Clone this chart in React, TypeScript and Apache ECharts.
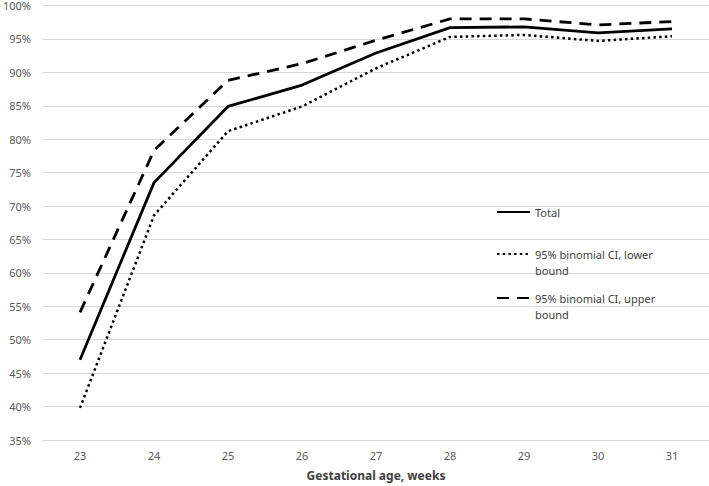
import React, { useEffect, useRef } from "react";
import * as echarts from "echarts";

const weeks = ["23", "24", "25", "26", "27", "28", "29", "30", "31"];
const total = [47.0, 73.5, 84.9, 88.1, 92.9, 96.7, 96.8, 95.9, 96.5];
const lower = [39.8, 68.6, 81.2, 84.9, 90.6, 95.3, 95.6, 94.7, 95.4];
const upper = [54.1, 78.3, 88.8, 91.3, 94.8, 98.0, 98.0, 97.1, 97.6];
const yTicks = { min: 35, max: 100, interval: 5 };

const NAME_TOTAL = "Total";
const NAME_LOWER = "95% binomial CI, lower bound";
const NAME_UPPER = "95% binomial CI, upper bound";

const FONT = "Noto Sans";

export default function App() {
  const ref = useRef<HTMLDivElement>(null);
  useEffect(() => {
    if (!ref.current) return;
    const chart = echarts.init(ref.current, null, { renderer: "svg" });
    const legendText = {
      color: "#404040",
      fontFamily: FONT,
      fontSize: 11,
      lineHeight: 16,
    };
    const wrap = (n: string) =>
      / bound$/.test(n) ? "\n" + n.replace(/ bound$/, "\nbound") : n;
    const mkLegend = (name: string, top: number) => ({
      data: [name],
      left: 496,
      top,
      padding: 0,
      itemWidth: 33,
      itemHeight: 14,
      itemGap: 0,
      orient: "vertical",
      formatter: (n: string) => wrap(n),
      textStyle: legendText,
      itemStyle: { opacity: 0 },
    });
    chart.setOption({
      animation: false,
      backgroundColor: "#ffffff",
      grid: { left: 39, right: 0, top: 4, bottom: 43, containLabel: false },
      legend: [
        mkLegend(NAME_TOTAL, 204),
        mkLegend(NAME_LOWER, 230),
        mkLegend(NAME_UPPER, 274),
      ],
      xAxis: {
        type: "category",
        data: weeks,
        boundaryGap: true,
        name: "Gestational age, weeks",
        nameLocation: "middle",
        nameGap: 29,
        nameTextStyle: {
          color: "#404040",
          fontFamily: FONT,
          fontSize: 12,
          fontWeight: "bold",
        },
        axisLine: { show: true, lineStyle: { color: "#d9d9d9", width: 1 } },
        axisTick: { show: false },
        axisLabel: {
          color: "#595959",
          fontFamily: FONT,
          fontSize: 11,
          margin: 10,
        },
      },
      yAxis: {
        type: "value",
        min: yTicks.min,
        max: yTicks.max,
        interval: yTicks.interval,
        axisLine: { show: false },
        axisTick: { show: false },
        axisLabel: {
          color: "#595959",
          fontFamily: FONT,
          fontSize: 11,
          margin: 12,
          formatter: (v: number) => `${v}%`,
        },
        splitLine: { show: true, lineStyle: { color: "#d9d9d9", width: 1 } },
      },
      series: [
        {
          name: NAME_TOTAL,
          type: "line",
          data: total,
          symbol: "none",
          lineStyle: { color: "#000000", width: 2.8, type: "solid" },
          itemStyle: { color: "#000000" },
        },
        {
          name: NAME_LOWER,
          type: "line",
          data: lower,
          symbol: "none",
          lineStyle: { color: "#000000", width: 2.5, type: [2.5, 3.2] },
          itemStyle: { color: "#000000" },
        },
        {
          name: NAME_UPPER,
          type: "line",
          data: upper,
          symbol: "none",
          lineStyle: { color: "#000000", width: 2.8, type: [12, 8] },
          itemStyle: { color: "#000000" },
        },
      ],
    });
    return () => chart.dispose();
  }, []);
  return (
    <div
      ref={ref}
      style={{ position: "fixed", left: 0, top: 0, width: 709, height: 486 }}
    />
  );
}
